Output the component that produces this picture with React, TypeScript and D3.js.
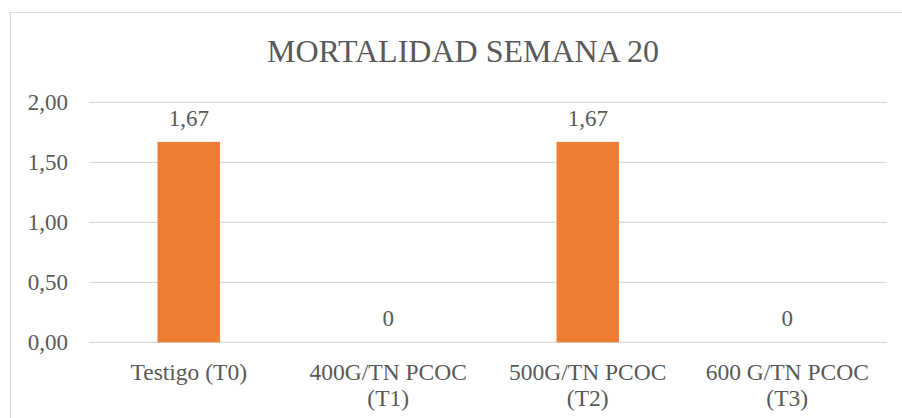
import * as d3 from "d3";

const categories = [
  ["Testigo (T0)"],
  ["400G/TN PCOC", "(T1)"],
  ["500G/TN PCOC", "(T2)"],
  ["600 G/TN PCOC", "(T3)"],
];
const values = [1.67, 0, 1.67, 0];
const valueLabels = ["1,67", "0", "1,67", "0"];
const yTicks = [0, 0.5, 1, 1.5, 2];

const W = 902;
const H = 418;
const FONT = "Liberation Serif";
const TEXT = "#595959";

const left = 89;
const right = 887;
const top = 102.3;
const bottom = 342.3;

const x = d3
  .scaleBand<number>()
  .domain(d3.range(values.length))
  .range([left, right])
  .paddingInner(0.687)
  .paddingOuter(0.3435);

const y = d3.scaleLinear().domain([0, 2]).range([bottom, top]);
const fmt = (d: number) => d3.format(".2f")(d).replace(".", ",");

export default function App() {
  return (
    <svg
      width={W}
      height={H}
      style={{ position: "absolute", left: 0, top: 0, background: "#fff" }}
    >
      {/* chart area border */}
      <rect x={10.5} y={12.5} width={W} height={H} fill="#fff" stroke="#D9D9D9" />

      {/* grid */}
      {yTicks.map((t) => (
        <line key={t} x1={left} x2={right} y1={y(t)} y2={y(t)} stroke="#D9D9D9" strokeWidth={1.3} />
      ))}

      {/* y labels */}
      {yTicks.map((t) => (
        <text
          key={t}
          x={68}
          y={y(t)}
          dy="0.35em"
          textAnchor="end"
          fontFamily={FONT}
          fontSize={23}
          fill={TEXT}
        >
          {fmt(t)}
        </text>
      ))}

      {/* bars */}
      {values.map((v, i) => (
        <rect
          key={i}
          x={x(i)}
          width={x.bandwidth()}
          y={y(v)}
          height={bottom - y(v)}
          fill="#ED7D31"
        />
      ))}

      {/* value labels */}
      {values.map((v, i) => (
        <text
          key={i}
          x={x(i)! + x.bandwidth() / 2}
          y={y(v) - 16}
          textAnchor="middle"
          fontFamily={FONT}
          fontSize={23}
          fill={TEXT}
        >
          {valueLabels[i]}
        </text>
      ))}

      {/* category labels */}
      {categories.map((lines, i) => {
        const cx = x(i)! + x.bandwidth() / 2;
        return (
          <text key={i} x={cx} y={380} textAnchor="middle" fontFamily={FONT} fontSize={23.5} fill={TEXT}>
            {lines.map((l, j) => (
              <tspan key={j} x={cx} dy={j === 0 ? 0 : 26}>
                {l}
              </tspan>
            ))}
          </text>
        );
      })}

      {/* title */}
      <text x={463} y={62} textAnchor="middle" fontFamily={FONT} fontSize={32} fill={TEXT}>
        MORTALIDAD SEMANA 20
      </text>
    </svg>
  );
}
